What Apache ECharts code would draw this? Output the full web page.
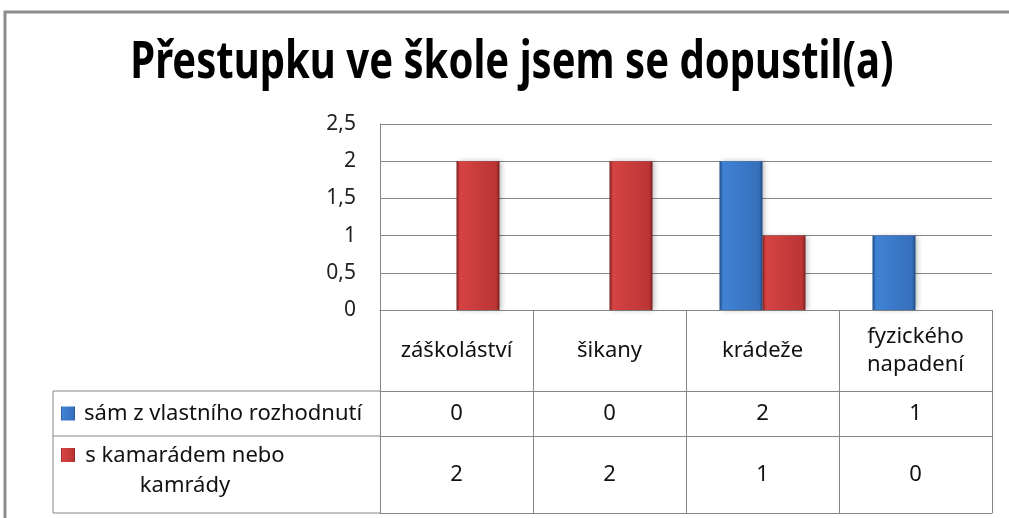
<!DOCTYPE html>
<html>
<head>
<meta charset="utf-8">
<script src="https://cdn.jsdelivr.net/npm/echarts@6/dist/echarts.min.js"></script>
<style>
html, body { margin: 0; padding: 0; background: #fff; }
#chart { width: 1009px; height: 518px; }
</style>
</head>
<body>
<div id="chart"></div>
<script>
var categories = ['záškoláství', 'šikany', 'krádeže', 'fyzického\nnapadení'];
var seriesNames = ['sám z vlastního rozhodnutí', 's kamarádem nebo kamrády'];
var samValues = [0, 0, 2, 1];
var kamaradValues = [2, 2, 1, 0];
var chartTitle = 'Přestupku ve škole jsem se dopustil(a)';

// layout (Excel chart with data table)
var gridLeft = 380, gridRight = 17, gridTop = 124, gridBottom = 208;
var tableLeft = 53;
var headRow = 81, row1 = 45, row2 = 77;
var axisY = 518 - gridBottom;
var lineColor = '#868686';
var font = 'Noto Sans, sans-serif';
var tableFontSize = 22;

var chart = echarts.init(document.getElementById('chart'));

function barColor(edge, mid, mid2) {
	return new echarts.graphic.LinearGradient(0, 0, 1, 0, [
		{ offset: 0, color: edge },
		{ offset: 0.08, color: mid },
		{ offset: 0.92, color: mid2 },
		{ offset: 1, color: edge }
	]);
}
var blueFill = barColor('#1e4a82', '#4082d4', '#3670bc');
var redFill = barColor('#7a1f1f', '#d64343', '#bb3535');

function tableAxis(offset, labels, tickLen, margin, showLabel) {
	return {
		type: 'category',
		data: categories,
		position: 'bottom',
		offset: offset,
		axisLine: { show: true, lineStyle: { color: lineColor, width: 1 } },
		axisTick: { show: tickLen > 0, interval: 0, length: tickLen, lineStyle: { color: lineColor } },
		axisLabel: {
			show: showLabel,
			interval: 0,
			margin: margin,
			verticalAlign: 'middle',
			fontFamily: font,
			fontSize: tableFontSize,
			lineHeight: 28,
			color: '#111',
			formatter: function (v, i) { return labels ? String(labels[i]) : v; }
		}
	};
}

var option = {
	animation: false,
	grid: { left: gridLeft, right: gridRight, top: gridTop, bottom: gridBottom },
	xAxis: [
		tableAxis(0, null, headRow, headRow / 2, true),
		tableAxis(headRow, samValues, row1, row1 / 2, true),
		tableAxis(headRow + row1, kamaradValues, row2, row2 / 2, true),
		tableAxis(headRow + row1 + row2, null, 0, 0, false)
	],
	yAxis: {
		type: 'value',
		min: 0,
		max: 2.5,
		interval: 0.5,
		axisLine: { show: true, lineStyle: { color: lineColor } },
		axisTick: { show: false },
		splitLine: { lineStyle: { color: lineColor } },
		axisLabel: {
			margin: 24,
			fontFamily: font,
			fontSize: 21,
			color: '#222',
			formatter: function (v) { return String(v).replace('.', ','); }
		}
	},
	series: [
		{
			name: seriesNames[0],
			type: 'bar',
			data: samValues,
			barWidth: 43,
			barGap: '0%',
			itemStyle: { color: blueFill, shadowBlur: 5, shadowColor: 'rgba(0,0,0,0.25)', shadowOffsetX: 2 }
		},
		{
			name: seriesNames[1],
			type: 'bar',
			data: kamaradValues,
			barWidth: 43,
			itemStyle: { color: redFill, shadowBlur: 5, shadowColor: 'rgba(0,0,0,0.25)', shadowOffsetX: 2 }
		}
	],
	graphic: [
		// outer chart frame
		{ type: 'rect', shape: { x: 5, y: 12, width: 1100, height: 600 }, style: { fill: 'none', stroke: '#8c8c8c', lineWidth: 3 } },
		// title, narrowed to look like the condensed original
		{ type: 'text', x: 512, y: 37, scaleX: 0.77, style: { text: chartTitle, font: 'bold 52px ' + font, fill: '#000', align: 'center', verticalAlign: 'top' } },
		// legend column of the data table
		{ type: 'line', shape: { x1: tableLeft, y1: axisY + headRow, x2: gridLeft, y2: axisY + headRow }, style: { stroke: lineColor } },
		{ type: 'line', shape: { x1: tableLeft, y1: axisY + headRow + row1, x2: gridLeft, y2: axisY + headRow + row1 }, style: { stroke: lineColor } },
		{ type: 'line', shape: { x1: tableLeft, y1: axisY + headRow + row1 + row2, x2: gridLeft, y2: axisY + headRow + row1 + row2 }, style: { stroke: lineColor } },
		{ type: 'line', shape: { x1: tableLeft, y1: axisY + headRow, x2: tableLeft, y2: axisY + headRow + row1 + row2 }, style: { stroke: lineColor } },
		{ type: 'rect', shape: { x: 61, y: axisY + headRow + row1 / 2 - 7, width: 14, height: 14 }, style: { fill: blueFill } },
		{ type: 'text', x: 84, y: axisY + headRow + row1 / 2, style: { text: seriesNames[0], font: tableFontSize + 'px ' + font, fill: '#111', verticalAlign: 'middle' } },
		{ type: 'rect', shape: { x: 61, y: axisY + headRow + row1 + 12, width: 14, height: 14 }, style: { fill: redFill } },
		{ type: 'text', x: 185, y: axisY + headRow + row1 + row2 / 2 - 4, style: { text: 's kamarádem nebo\nkamrády', font: tableFontSize + 'px ' + font, lineHeight: 30, fill: '#111', align: 'center', verticalAlign: 'middle' } }
	]
};

chart.setOption(option);
</script>
</body>
</html>
